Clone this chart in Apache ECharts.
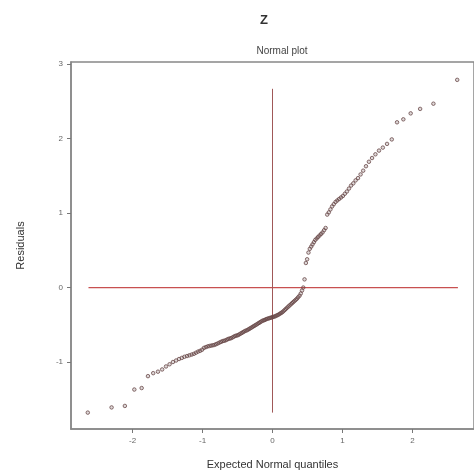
<!DOCTYPE html>
<html>
<head>
<meta charset="utf-8">
<script src="https://cdn.jsdelivr.net/npm/echarts@6/dist/echarts.min.js"></script>
<style>html,body{margin:0;padding:0;background:#fff}#c{width:474px;height:475px}</style>
</head>
<body>
<div id="c"></div>
<script>
// Expected normal quantiles (x)
const quantiles = [
-2.64,-2.30,-2.11,-1.975,-1.87,-1.78,-1.705,-1.637,-1.577,-1.522,
-1.471,-1.423,-1.378,-1.336,-1.296,-1.259,-1.222,-1.188,-1.155,-1.123,
-1.093,-1.063,-1.034,-1.006,-0.979,-0.952,-0.926,-0.901,-0.876,-0.852,
-0.828,-0.805,-0.782,-0.759,-0.737,-0.715,-0.694,-0.673,-0.652,-0.632,
-0.611,-0.592,-0.572,-0.553,-0.533,-0.514,-0.495,-0.477,-0.458,-0.440,
-0.422,-0.404,-0.386,-0.367,-0.349,-0.332,-0.314,-0.297,-0.279,-0.262,
-0.244,-0.227,-0.210,-0.193,-0.176,-0.159,-0.142,-0.125,-0.109,-0.092,
-0.075,-0.058,-0.042,-0.025,-0.008,0.008,0.025,0.042,0.058,0.075,
0.092,0.109,0.125,0.142,0.159,0.176,0.193,0.210,0.227,0.244,
0.262,0.279,0.297,0.314,0.332,0.349,0.367,0.386,0.404,0.422,
0.440,0.458,0.477,0.495,0.514,0.533,0.553,0.572,0.592,0.611,
0.632,0.652,0.673,0.694,0.715,0.737,0.759,0.782,0.805,0.828,
0.852,0.876,0.901,0.926,0.952,0.979,1.006,1.034,1.063,1.093,
1.123,1.155,1.188,1.222,1.259,1.296,1.336,1.378,1.423,1.471,
1.522,1.577,1.637,1.705,1.78,1.87,1.975,2.11,2.30,2.64
];
// Residuals (y)
const residuals = [
-1.68,-1.61,-1.59,-1.37,-1.35,-1.19,-1.15,-1.13,-1.10,-1.06,
-1.03,-1.00,-0.98,-0.96,-0.945,-0.93,-0.92,-0.91,-0.90,-0.89,
-0.875,-0.86,-0.85,-0.835,-0.81,-0.80,-0.79,-0.785,-0.78,-0.775,
-0.77,-0.76,-0.75,-0.74,-0.73,-0.72,-0.715,-0.71,-0.70,-0.69,
-0.685,-0.68,-0.67,-0.66,-0.65,-0.645,-0.64,-0.63,-0.62,-0.61,
-0.60,-0.59,-0.58,-0.575,-0.565,-0.555,-0.545,-0.535,-0.525,-0.515,
-0.505,-0.495,-0.485,-0.475,-0.465,-0.455,-0.445,-0.44,-0.435,-0.425,
-0.42,-0.415,-0.41,-0.405,-0.40,-0.395,-0.39,-0.385,-0.375,-0.37,
-0.36,-0.35,-0.34,-0.33,-0.315,-0.30,-0.285,-0.27,-0.255,-0.24,
-0.225,-0.21,-0.195,-0.18,-0.165,-0.15,-0.13,-0.11,-0.08,-0.04,
0.0,0.11,0.33,0.38,0.47,0.52,0.55,0.58,0.61,0.64,
0.66,0.68,0.70,0.72,0.74,0.77,0.80,0.98,1.01,1.05,
1.09,1.12,1.15,1.17,1.19,1.21,1.23,1.26,1.29,1.33,
1.37,1.40,1.44,1.47,1.52,1.57,1.63,1.69,1.74,1.79,
1.84,1.88,1.93,1.99,2.22,2.26,2.34,2.40,2.47,2.79
];
const xTicks = [-2, -1, 0, 1, 2];
const yTicks = [-1, 0, 1, 2, 3];
const hLine = [[-2.63, 0], [2.65, 0]];
const vLine = [[0, -1.68], [0, 2.67]];

const font = 'Liberation Sans, Arial, sans-serif';
const chart = echarts.init(document.getElementById('c'));
const pts = quantiles.map((x, i) => [x, residuals[i]]);
chart.setOption({
  backgroundColor: '#fff',
  animation: false,
  title: [
    {text: 'Z', left: 259, top: 9, textAlign: 'center',
     textStyle: {fontFamily: font, fontSize: 13, fontWeight: 'bold', color: '#333'}},
    {text: 'Normal plot', left: 277, top: 41, textAlign: 'center',
     textStyle: {fontFamily: font, fontSize: 10, fontWeight: 'normal', color: '#444'}}
  ],
  grid: {left: 71, top: 62, right: -5, bottom: 45, show: true, borderColor: '#888', borderWidth: 1.5, backgroundColor: 'transparent'},
  xAxis: {
    type: 'value', min: -2.88, max: 2.88,
    name: 'Expected Normal quantiles', nameLocation: 'middle', nameGap: 30,
    nameTextStyle: {fontFamily: font, fontSize: 11, color: '#333'},
    axisLine: {show: true, onZero: false, lineStyle: {color: '#888', width: 1.5}},
    axisTick: {show: true, inside: false, length: 4, customValues: xTicks, lineStyle: {color: '#777'}},
    axisLabel: {fontFamily: font, fontSize: 8, color: '#666', margin: 8, customValues: xTicks},
    splitLine: {show: false}
  },
  yAxis: {
    type: 'value', min: -1.9, max: 3.03,
    name: 'Residuals', nameLocation: 'middle', nameGap: 45, nameRotate: 90,
    nameTextStyle: {fontFamily: font, fontSize: 11, color: '#333'},
    axisLine: {show: true, onZero: false, lineStyle: {color: '#888', width: 1.5}},
    axisTick: {show: true, inside: false, length: 4, customValues: yTicks, lineStyle: {color: '#777'}},
    axisLabel: {fontFamily: font, fontSize: 8, color: '#666', margin: 8, customValues: yTicks},
    splitLine: {show: false}
  },
  series: [
    {type: 'line', data: hLine, symbol: 'none', lineStyle: {color: '#c85050', width: 1.2}, silent: true, z: 1},
    {type: 'line', data: vLine, symbol: 'none', lineStyle: {color: '#a05858', width: 1}, silent: true, z: 1},
    {type: 'scatter', data: pts, symbol: 'circle', symbolSize: 3.5, z: 3,
     itemStyle: {color: 'rgba(90,60,60,0.25)', borderColor: '#6a4a4a', borderWidth: 1}}
  ]
});
</script>
</body>
</html>
